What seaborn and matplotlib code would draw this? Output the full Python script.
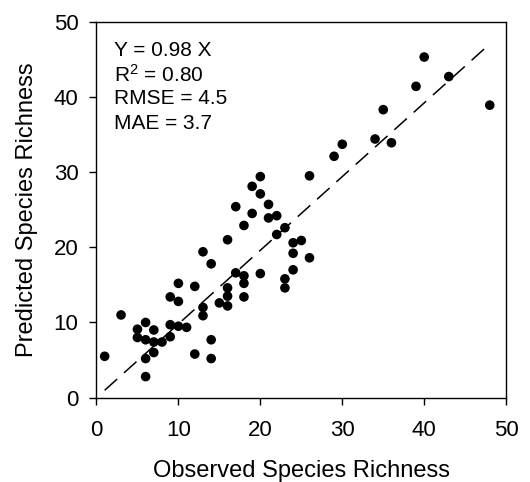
import matplotlib
matplotlib.use("Agg")
import pandas as pd
import matplotlib.pyplot as plt
import seaborn as sns

# observed vs predicted species richness
observed = [40, 43, 39, 48, 35, 34, 36, 30, 29, 26, 25,
            20, 19, 20, 17, 21, 19, 21, 22, 18, 23, 22, 16, 24, 13, 24, 26, 14,
            24, 17, 18, 20, 18, 23, 23, 12, 16, 16, 18, 15, 16, 13, 13,
            10, 9, 10, 3, 6, 5, 7, 9, 10, 11, 5, 6, 7, 8, 9, 14, 7, 6, 1, 12,
            14, 6]
predicted = [45.3, 42.7, 41.4, 38.9, 38.3, 34.4, 33.9, 33.7, 32.1, 29.5, 20.9,
             29.4, 28.1, 27.1, 25.4, 25.7, 24.5, 23.9, 24.2, 22.9, 22.6, 21.7,
             21.0, 20.6, 19.4, 19.2, 18.6, 17.8, 17.0, 16.6, 16.2, 16.5, 15.2,
             15.8, 14.6, 14.8, 14.6, 13.5, 13.4, 12.6, 12.2, 12.0, 10.9,
             15.2, 13.4, 12.8, 11.0, 10.0, 9.1, 9.0, 9.7, 9.5, 9.35, 8.0, 7.7,
             7.4, 7.4, 8.1, 7.7, 6.0, 5.2, 5.5, 5.8, 5.2, 2.8]
slope = 0.98
stats_text = ["Y = 0.98 X", r"R$^2$ = 0.80", "RMSE = 4.5", "MAE = 3.7"]
x_ticks = [0, 10, 20, 30, 40, 50]
y_ticks = [0, 10, 20, 30, 40, 50]

sns.set_style("ticks")
plt.rcParams["font.family"] = ["Liberation Sans", "DejaVu Sans"]
plt.rcParams["mathtext.fontset"] = "custom"
plt.rcParams["mathtext.rm"] = "Liberation Sans"
plt.rcParams["mathtext.it"] = "Liberation Sans"
plt.rcParams["text.color"] = "black"
plt.rcParams["axes.labelcolor"] = "black"
plt.rcParams["xtick.color"] = "black"
plt.rcParams["ytick.color"] = "black"

df = pd.DataFrame({"observed": observed, "predicted": predicted})
fit = pd.DataFrame({"x": [min(observed), max(observed)]})
fit["y"] = slope * fit["x"]

fig = plt.figure(figsize=(5.3, 4.82), dpi=100)
ax = fig.add_axes([0.182, 0.175, 0.773, 0.780])

sns.lineplot(data=fit, x="x", y="y", ax=ax, color="black", linewidth=1.1,
             dashes=False, zorder=1)
ax.lines[0].set_dashes((11, 6))
sns.scatterplot(data=df, x="observed", y="predicted", ax=ax, color="black",
                s=48, edgecolor="none", zorder=2)

ax.set_xlim(0, 50)
ax.set_ylim(0, 50)
ax.set_xticks(x_ticks)
ax.set_yticks(y_ticks)
ax.tick_params(axis="both", labelsize=16, length=5, width=1, color="black",
               labelcolor="black", direction="out")
ax.tick_params(axis="x", pad=11)
ax.tick_params(axis="y", pad=8)
for sp in ax.spines.values():
    sp.set_visible(True)
    sp.set_color("black")
    sp.set_linewidth(1)

ax.set_xlabel("Observed Species Richness", fontsize=17, labelpad=14)
ax.set_ylabel("Predicted Species Richness", fontsize=17, labelpad=11)

for i, line in enumerate(stats_text):
    ax.text(0.043, 0.924 - i * 0.0647, line, transform=ax.transAxes,
            fontsize=15, va="center", ha="left", color="black")

fig.savefig("out.png", dpi=100)
